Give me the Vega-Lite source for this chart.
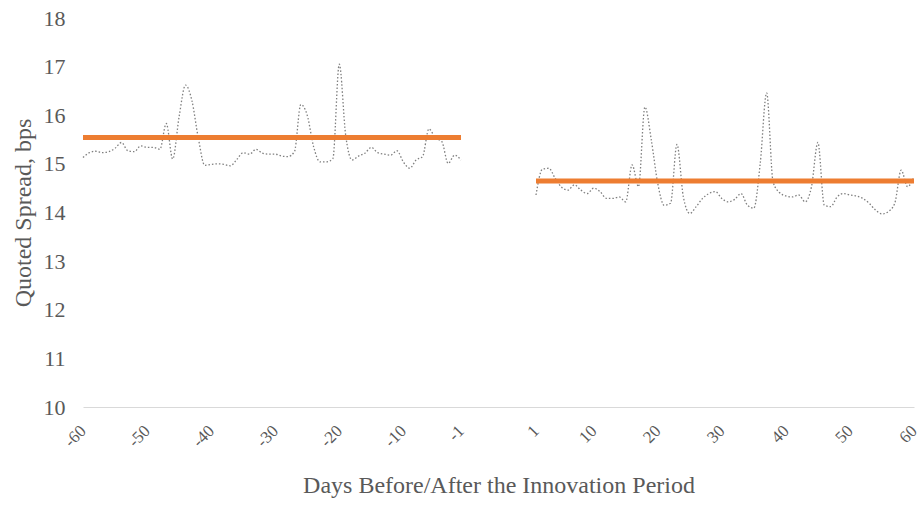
{
  "$schema": "https://vega.github.io/schema/vega-lite/v6.json",
  "autosize": "none",
  "width": 831,
  "height": 389,
  "padding": {"left": 83, "top": 18, "right": 9, "bottom": 103},
  "background": "white",
  "config": {
    "view": {"stroke": null},
    "font": "Liberation Serif",
    "axis": {"labelFont": "Liberation Serif", "titleFont": "Liberation Serif", "labelColor": "#595959", "titleColor": "#595959", "titleFontWeight": "normal", "grid": false, "ticks": false}
  },
  "datasets": {
    "daily": [
      {"day": -60, "spread": 15.13, "period": "before"},
      {"day": -59, "spread": 15.23, "period": "before"},
      {"day": -58, "spread": 15.26, "period": "before"},
      {"day": -57, "spread": 15.23, "period": "before"},
      {"day": -56, "spread": 15.25, "period": "before"},
      {"day": -55, "spread": 15.32, "period": "before"},
      {"day": -54, "spread": 15.44, "period": "before"},
      {"day": -53, "spread": 15.27, "period": "before"},
      {"day": -52, "spread": 15.25, "period": "before"},
      {"day": -51, "spread": 15.37, "period": "before"},
      {"day": -50, "spread": 15.34, "period": "before"},
      {"day": -49, "spread": 15.34, "period": "before"},
      {"day": -48, "spread": 15.30, "period": "before"},
      {"day": -47, "spread": 15.83, "period": "before"},
      {"day": -46, "spread": 15.10, "period": "before"},
      {"day": -45, "spread": 15.97, "period": "before"},
      {"day": -44, "spread": 16.62, "period": "before"},
      {"day": -43, "spread": 16.30, "period": "before"},
      {"day": -42, "spread": 15.53, "period": "before"},
      {"day": -41, "spread": 14.97, "period": "before"},
      {"day": -40, "spread": 14.99, "period": "before"},
      {"day": -39, "spread": 15.00, "period": "before"},
      {"day": -38, "spread": 14.99, "period": "before"},
      {"day": -37, "spread": 14.96, "period": "before"},
      {"day": -36, "spread": 15.09, "period": "before"},
      {"day": -35, "spread": 15.23, "period": "before"},
      {"day": -34, "spread": 15.20, "period": "before"},
      {"day": -33, "spread": 15.30, "period": "before"},
      {"day": -32, "spread": 15.22, "period": "before"},
      {"day": -31, "spread": 15.20, "period": "before"},
      {"day": -30, "spread": 15.20, "period": "before"},
      {"day": -29, "spread": 15.16, "period": "before"},
      {"day": -28, "spread": 15.15, "period": "before"},
      {"day": -27, "spread": 15.25, "period": "before"},
      {"day": -26, "spread": 16.22, "period": "before"},
      {"day": -25, "spread": 16.00, "period": "before"},
      {"day": -24, "spread": 15.35, "period": "before"},
      {"day": -23, "spread": 15.04, "period": "before"},
      {"day": -22, "spread": 15.04, "period": "before"},
      {"day": -21, "spread": 15.11, "period": "before"},
      {"day": -20, "spread": 17.05, "period": "before"},
      {"day": -19, "spread": 15.59, "period": "before"},
      {"day": -18, "spread": 15.08, "period": "before"},
      {"day": -17, "spread": 15.16, "period": "before"},
      {"day": -16, "spread": 15.22, "period": "before"},
      {"day": -15, "spread": 15.34, "period": "before"},
      {"day": -14, "spread": 15.23, "period": "before"},
      {"day": -13, "spread": 15.20, "period": "before"},
      {"day": -12, "spread": 15.18, "period": "before"},
      {"day": -11, "spread": 15.27, "period": "before"},
      {"day": -10, "spread": 15.04, "period": "before"},
      {"day": -9, "spread": 14.91, "period": "before"},
      {"day": -8, "spread": 15.08, "period": "before"},
      {"day": -7, "spread": 15.15, "period": "before"},
      {"day": -6, "spread": 15.72, "period": "before"},
      {"day": -5, "spread": 15.53, "period": "before"},
      {"day": -4, "spread": 15.46, "period": "before"},
      {"day": -3, "spread": 15.01, "period": "before"},
      {"day": -2, "spread": 15.18, "period": "before"},
      {"day": -1, "spread": 15.08, "period": "before"},
      {"day": 1, "spread": 14.36, "period": "after"},
      {"day": 2, "spread": 14.89, "period": "after"},
      {"day": 3, "spread": 14.91, "period": "after"},
      {"day": 4, "spread": 14.70, "period": "after"},
      {"day": 5, "spread": 14.52, "period": "after"},
      {"day": 6, "spread": 14.46, "period": "after"},
      {"day": 7, "spread": 14.57, "period": "after"},
      {"day": 8, "spread": 14.46, "period": "after"},
      {"day": 9, "spread": 14.39, "period": "after"},
      {"day": 10, "spread": 14.50, "period": "after"},
      {"day": 11, "spread": 14.43, "period": "after"},
      {"day": 12, "spread": 14.29, "period": "after"},
      {"day": 13, "spread": 14.29, "period": "after"},
      {"day": 14, "spread": 14.32, "period": "after"},
      {"day": 15, "spread": 14.22, "period": "after"},
      {"day": 16, "spread": 14.98, "period": "after"},
      {"day": 17, "spread": 14.53, "period": "after"},
      {"day": 18, "spread": 16.17, "period": "after"},
      {"day": 19, "spread": 15.49, "period": "after"},
      {"day": 20, "spread": 14.60, "period": "after"},
      {"day": 21, "spread": 14.15, "period": "after"},
      {"day": 22, "spread": 14.19, "period": "after"},
      {"day": 23, "spread": 15.40, "period": "after"},
      {"day": 24, "spread": 14.32, "period": "after"},
      {"day": 25, "spread": 13.98, "period": "after"},
      {"day": 26, "spread": 14.12, "period": "after"},
      {"day": 27, "spread": 14.29, "period": "after"},
      {"day": 28, "spread": 14.39, "period": "after"},
      {"day": 29, "spread": 14.43, "period": "after"},
      {"day": 30, "spread": 14.29, "period": "after"},
      {"day": 31, "spread": 14.22, "period": "after"},
      {"day": 32, "spread": 14.27, "period": "after"},
      {"day": 33, "spread": 14.39, "period": "after"},
      {"day": 34, "spread": 14.15, "period": "after"},
      {"day": 35, "spread": 14.09, "period": "after"},
      {"day": 36, "spread": 15.01, "period": "after"},
      {"day": 37, "spread": 16.46, "period": "after"},
      {"day": 38, "spread": 14.63, "period": "after"},
      {"day": 39, "spread": 14.41, "period": "after"},
      {"day": 40, "spread": 14.34, "period": "after"},
      {"day": 41, "spread": 14.32, "period": "after"},
      {"day": 42, "spread": 14.36, "period": "after"},
      {"day": 43, "spread": 14.22, "period": "after"},
      {"day": 44, "spread": 14.53, "period": "after"},
      {"day": 45, "spread": 15.44, "period": "after"},
      {"day": 46, "spread": 14.15, "period": "after"},
      {"day": 47, "spread": 14.12, "period": "after"},
      {"day": 48, "spread": 14.32, "period": "after"},
      {"day": 49, "spread": 14.39, "period": "after"},
      {"day": 50, "spread": 14.36, "period": "after"},
      {"day": 51, "spread": 14.34, "period": "after"},
      {"day": 52, "spread": 14.29, "period": "after"},
      {"day": 53, "spread": 14.19, "period": "after"},
      {"day": 54, "spread": 14.05, "period": "after"},
      {"day": 55, "spread": 13.97, "period": "after"},
      {"day": 56, "spread": 14.02, "period": "after"},
      {"day": 57, "spread": 14.19, "period": "after"},
      {"day": 58, "spread": 14.87, "period": "after"},
      {"day": 59, "spread": 14.53, "period": "after"},
      {"day": 60, "spread": 14.74, "period": "after"}
    ],
    "mean": [
      {"day": -60, "spread": 15.54, "period": "before"},
      {"day": -1, "spread": 15.54, "period": "before"},
      {"day": 1, "spread": 14.65, "period": "after"},
      {"day": 60, "spread": 14.65, "period": "after"}
    ]
  },
  "encoding": {
    "x": {
      "field": "day",
      "type": "quantitative",
      "scale": {"domain": [-60, -1, 1, 60], "range": [0, 378, 453, 831], "nice": false, "zero": false},
      "axis": {
        "title": "Days Before/After the Innovation Period",
        "values": [-60, -50, -40, -30, -20, -10, -1, 1, 10, 20, 30, 40, 50, 60],
        "labelExpr": "'' + datum.value",
        "labelAngle": -45,
        "labelAlign": "right",
        "labelBaseline": "middle",
        "labelFontSize": 17,
        "labelPadding": 21,
        "labelOffset": 0,
        "labelFlush": false,
        "labelOverlap": false,
        "titleFontSize": 24,
        "titlePadding": 24,
        "domainColor": "#d9d9d9",
        "domainWidth": 1
      }
    },
    "y": {
      "field": "spread",
      "type": "quantitative",
      "scale": {"domain": [10, 18], "nice": false, "zero": false},
      "axis": {
        "title": "Quoted Spread, bps",
        "values": [10, 11, 12, 13, 14, 15, 16, 17, 18],
        "domain": false,
        "labelFontSize": 22,
        "labelPadding": 18,
        "titleFontSize": 24,
        "titlePadding": 8
      }
    }
  },
  "layer": [
    {
      "data": {"name": "daily"},
      "mark": {"type": "line", "interpolate": "monotone", "color": "#7f7f7f", "strokeWidth": 1.3, "strokeDash": [1.5, 2]},
      "encoding": {"detail": {"field": "period"}}
    },
    {
      "data": {"name": "mean"},
      "mark": {"type": "line", "color": "#ED7D31", "strokeWidth": 5},
      "encoding": {"detail": {"field": "period"}}
    }
  ]
}
